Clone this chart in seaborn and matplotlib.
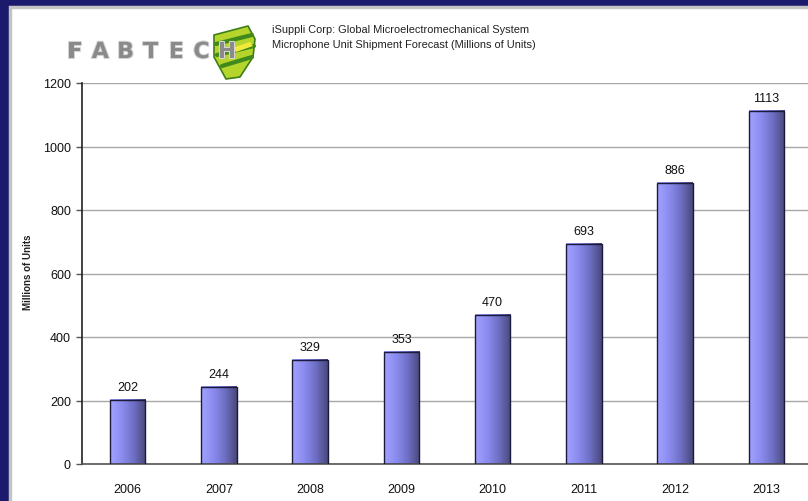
import matplotlib
matplotlib.use("Agg")
import matplotlib.pyplot as plt
import matplotlib.patches as mpatches
from matplotlib.colors import LinearSegmentedColormap
import matplotlib.patheffects as pe
import seaborn as sns
import numpy as np
import pandas as pd

years = ["2006", "2007", "2008", "2009", "2010", "2011", "2012", "2013"]
shipments = [202, 244, 329, 353, 470, 693, 886, 1113]
y_ticks = [0, 200, 400, 600, 800, 1000, 1200]
title_lines = ["iSuppli Corp: Global Microelectromechanical System",
               "Microphone Unit Shipment Forecast (Millions of Units)"]
y_label = "Millions of Units"

sns.set_theme(style="white")
plt.rcParams['font.family'] = ['Liberation Sans', 'DejaVu Sans']

W, H = 808, 502
fig = plt.figure(figsize=(W / 100, H / 100), dpi=100)
fig.patch.set_facecolor("#1b1a6c")

# white panel with light grey edge
panel = mpatches.Rectangle((10 / W, -0.1), 1.2, (H - 8) / H + 0.1,
                           transform=fig.transFigure, facecolor="white",
                           edgecolor="#c4c4c4", linewidth=2.5, zorder=-5)
fig.patches.append(panel)

ax = fig.add_axes([82 / W, 37 / H, 730 / W, 381 / H])
ax.set_facecolor("none")
ax.set_zorder(1)

df = pd.DataFrame({"year": years, "value": shipments})
sns.barplot(data=df, x="year", y="value", ax=ax, width=0.39,
            color="#8080e0", edgecolor="#1a1a3a", linewidth=1.0,
            saturation=1, zorder=3)

ax.set_ylim(0, 1200)
ax.set_xlim(-0.5, len(years) - 0.5)

# gradient fill on each bar
cmap = LinearSegmentedColormap.from_list(
    "bar", ["#a2a2ff", "#8c8cf0", "#6e6ec4", "#48487a"])
grad = np.linspace(0, 1, 256).reshape(1, -1)
for p in ax.patches:
    x0, y0 = p.get_x(), p.get_y()
    w, h = p.get_width(), p.get_height()
    p.set_facecolor("none")
    ax.imshow(grad, cmap=cmap, aspect="auto", extent=[x0, x0 + w, y0, y0 + h],
              zorder=2.5, interpolation="bilinear")
ax.set_ylim(0, 1200)
ax.set_xlim(-0.5, len(years) - 0.5)
ax.set_aspect("auto")

for c in ax.containers:
    ax.bar_label(c, padding=5, fontsize=9, color="#111111")

ax.set_yticks(y_ticks)
ax.set_yticklabels([str(t) for t in y_ticks], fontsize=9, color="#111111")
ax.yaxis.grid(True, color="#a8a8a8", linewidth=1.0)
ax.set_axisbelow(True)

ax.set_xticks(range(len(years)))
ax.set_xticklabels(years, fontsize=9, color="#111111")
ax.set_xticks(np.arange(-0.5, len(years), 1.0), minor=True)
ax.tick_params(axis="x", which="major", length=0, pad=14)
ax.tick_params(axis="x", which="minor", length=4, width=1, color="#555555", direction="out")
ax.tick_params(axis="y", length=4, width=1, color="#555555", direction="out", pad=4, left=True)

ax.set_xlabel("")
ax.set_ylabel("")
for s in ["top", "right"]:
    ax.spines[s].set_visible(False)
ax.spines["left"].set_color("#222222")
ax.spines["left"].set_linewidth(1.2)
ax.spines["bottom"].set_color("#555555")
ax.spines["bottom"].set_linewidth(1.2)

fig.text(28 / W, 1 - 272 / H, y_label, rotation=90, ha="center", va="center",
         fontsize=7, fontweight="bold", color="#222222")

# title
fig.text(272 / W, 1 - 30 / H, title_lines[0], ha="left", va="center",
         fontsize=7.9, color="#222222")
fig.text(272 / W, 1 - 45 / H, title_lines[1], ha="left", va="center",
         fontsize=7.9, color="#222222")

# FABTECH logo
shield_pts = [(214, 36), (248, 27), (255, 40), (253, 58), (240, 78),
              (226, 80), (214, 58)]
shield = mpatches.Polygon([(x / W, 1 - y / H) for x, y in shield_pts],
                          closed=True, transform=fig.transFigure,
                          facecolor="#b5d42c", edgecolor="#3f7d18",
                          linewidth=1.2, zorder=1)
fig.patches.append(shield)
stripes = [((216, 45), (252, 36)), ((217, 56), (254, 47)), ((222, 67), (252, 58))]
for (xa, ya), (xb, yb) in stripes:
    fig.lines.append(plt.Line2D([xa / W, xb / W], [1 - ya / H, 1 - yb / H],
                                transform=fig.transFigure, color="#3f8a1a",
                                linewidth=3, zorder=1.5))
hl = mpatches.Polygon([(x / W, 1 - y / H) for x, y in
                       [(232, 49), (250, 43), (253, 47), (236, 53)]],
                      closed=True, transform=fig.transFigure,
                      facecolor="#f2ea3a", edgecolor="none", zorder=1.6)
fig.patches.append(hl)

letters = "FABTECH"
for i, ch in enumerate(letters):
    fig.text((75 + i * 25.3) / W, 1 - 53 / H, ch, ha="center", va="center",
             fontsize=16, fontweight="bold", family="DejaVu Sans",
             color="#8a8a8a", zorder=3,
             path_effects=[pe.withStroke(linewidth=1.5, foreground="#d4d4d4")])

fig.savefig("out.png", dpi=100, facecolor=fig.get_facecolor())
